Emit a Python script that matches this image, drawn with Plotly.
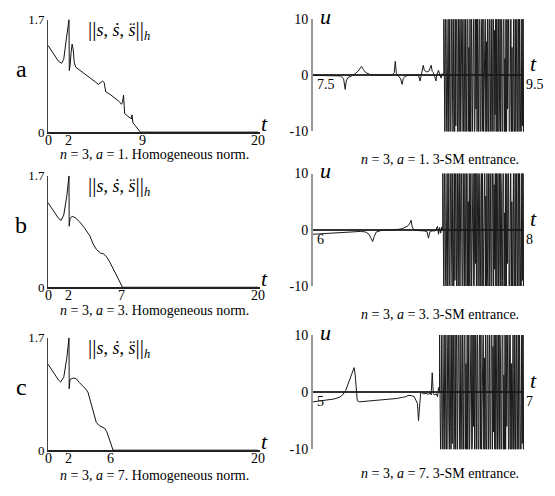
import numpy as np
import plotly.graph_objects as go

W, H = 555, 496
SERIF = "Liberation Serif"

# ---- homogeneous norm ||s, s', s''||_h (left column) ----
norm_a_t = [0, 0.5, 1.0, 1.3, 1.5, 1.7, 1.85, 2.0, 2.03, 2.1, 2.2, 2.3, 2.4, 2.5,
            2.65, 3.0, 3.5, 4.0, 4.5, 4.8, 5.0, 5.2, 5.35, 5.5, 6.0, 6.5, 6.8,
            7.0, 7.1, 7.2, 7.25, 7.3, 7.6, 7.95, 8.0, 8.05, 8.1, 8.4, 8.8, 20]
norm_a_v = [1.31, 1.18, 1.07, 1.04, 1.1, 1.35, 1.55, 1.7, 0.93, 1.0, 1.2, 1.33,
            1.25, 1.05, 0.98, 0.94, 0.88, 0.82, 0.76, 0.72, 0.74, 0.77, 0.75,
            0.61, 0.56, 0.50, 0.46, 0.42, 0.45, 0.56, 0.30, 0.28, 0.24, 0.20,
            0.26, 0.16, 0.14, 0.08, 0.0, 0.0]

norm_b_t = [0, 0.5, 1.0, 1.25, 1.5, 1.8, 2.0, 2.02, 2.1, 2.3, 2.6, 3.0, 3.5, 4.0,
            4.3, 4.6, 5.0, 5.3, 5.6, 5.9, 6.2, 6.4, 6.7, 7.1, 20]
norm_b_v = [1.29, 1.17, 1.05, 1.02, 1.1, 1.4, 1.7, 0.93, 1.05, 1.08, 1.06, 1.0,
            0.9, 0.78, 0.66, 0.58, 0.52, 0.51, 0.46, 0.38, 0.28, 0.21, 0.13,
            0.0, 0.0]

norm_c_t = [0, 0.5, 1.0, 1.2, 1.5, 1.8, 2.0, 2.02, 2.1, 2.4, 2.7, 3.0, 3.3, 3.5,
            3.8, 4.1, 4.4, 4.6, 4.9, 5.2, 5.4, 5.6, 5.8, 6.0, 6.2, 20]
norm_c_v = [1.30, 1.17, 1.06, 1.03, 1.1, 1.4, 1.7, 0.93, 1.07, 1.09, 1.08, 1.02,
            0.98, 0.94, 0.88, 0.72, 0.55, 0.42, 0.37, 0.35, 0.33, 0.28, 0.18,
            0.07, 0.0, 0.0]

norm_ticks_a = [0, 2, 9, 20]
norm_ticks_b = [0, 2, 7, 20]
norm_ticks_c = [0, 2, 6, 20]

# ---- control u before the 3-SM entrance (right column) ----
u_a_t = [7.5, 7.7, 7.76, 7.79, 7.805, 7.815, 7.83, 7.86, 7.9, 7.93, 7.95, 7.96,
         7.975, 8.0, 8.04, 8.1, 8.2, 8.25, 8.27, 8.28, 8.29, 8.31, 8.33, 8.345,
         8.355, 8.37, 8.4, 8.45, 8.5, 8.515, 8.525, 8.535, 8.545, 8.555, 8.565,
         8.58, 8.6, 8.62, 8.63, 8.64, 8.655, 8.665, 8.675, 8.69, 8.7, 8.715,
         8.725, 8.74]
u_a_v = [0, 0, -0.1, -0.6, -2.5, -1.0, -0.4, -0.15, 0.3, 0.8, 1.3, 1.6, 1.1, 0.5,
         0.15, 0.05, 0.05, 0.1, 0.5, 2.5, 0.4, -0.2, -0.6, -1.6, -0.6, -0.2, 0,
         0, 0, -1.0, 0, 0.9, 1.8, 0.9, 0.8, 0.6, 0.8, 1.8, 0.7, 0.5, -0.3, -1.0,
         0.2, 0.9, 0.2, -0.5, 0.3, 0]

u_b_t = [6.0, 6.1, 6.2, 6.3, 6.4, 6.45, 6.5, 6.53, 6.55, 6.565, 6.58, 6.6, 6.65,
         6.7, 6.8, 6.85, 6.9, 6.92, 6.93, 6.94, 6.96, 7.0, 7.05, 7.08, 7.095,
         7.1, 7.11, 7.13, 7.16, 7.18, 7.19, 7.2, 7.21, 7.22, 7.23]
u_b_v = [-0.8, -0.7, -0.55, -0.45, -0.35, -0.3, -0.4, -0.8, -1.5, -2.1, -1.2,
         -0.4, -0.1, 0, 0.05, 0.2, 0.7, 1.2, 1.7, 0.5, -0.1, -0.1, -0.2, -0.3,
         -1.5, -1.0, -0.3, -0.2, -0.2, 0.6, -0.8, 0.4, -0.6, 0.5, 0]

u_c_t = [5.0, 5.1, 5.2, 5.25, 5.28, 5.31, 5.34, 5.37, 5.39, 5.40, 5.42, 5.44,
         5.5, 5.6, 5.7, 5.8, 5.85, 5.88, 5.9, 5.93, 5.96, 5.99, 6.0, 6.01, 6.02,
         6.03, 6.05, 6.07, 6.09, 6.11, 6.12, 6.13, 6.14, 6.15, 6.17, 6.18, 6.19,
         6.2]
u_c_v = [-1.7, -1.5, -1.2, -0.9, -0.5, 0.3, 1.8, 3.5, 4.3, 3.0, -1.5, -1.7, -1.6,
         -1.45, -1.3, -1.1, -0.9, -0.8, -0.6, -0.6, -0.8, -2.0, -5.0, -1.5, -0.2,
         -0.1, -0.3, -0.2, -0.4, -0.1, -0.5, 3.4, -0.2, -0.5, -0.3, -0.8, 0.8, 0]

# sliding-mode chattering of u (values beyond +-10 are clipped by the axis)
chatter = [12, -3, -13, 9, 14, -8, -12, 2, 13, -14, 6, 11, -10, -13, 8, 14, -5,
           -12, 11, 3, -14, 12, -9, 10, 13, -12, -6, 14, -11, 7, 12, -14, -2,
           13, 9, -13, -11, 12, 4, -14, 13, -7, -12, 11, 14, -10, 5, -13, 12,
           -11, 8, 13, -14, -4, 10, 14, -12, -9, 13, -6, 11, -14, 12, 2, -13, 9,
           14, -11, -12, 7, 13, -10, 12, -14, -3, 11, 13, -12, 6, -13, 14, -8,
           -11, 12, 10, -14, 4, 13, -12, -10, 11, 14, -13, 8, -7, 12, -14, 13,
           -11, 9, 14, -12, -5, 13, -13, 11, 7, -14, -9, 12, 14, -11, 3, -12,
           13, -14, 10, -6, 12, 14, -13, -10, 9, 13, -12, 5, -14, 11, 12, -13,
           -8, 14, -11, 10, 13, -14, -2, 12, -12, 14, 8, -13, -11, 13, -9, 11,
           -14, 12]

u_ranges = [(7.5, 9.5), (6.0, 8.0), (5.0, 7.0)]
u_labels = [("7.5", "9.5"), ("6", "8"), ("5", "7")]
captions_left = ["<i>n</i> = 3, <i>a</i> = 1. Homogeneous norm.",
                 "<i>n</i> = 3, <i>a</i> = 3. Homogeneous norm.",
                 "<i>n</i> = 3, <i>a</i> = 7. Homogeneous norm."]
captions_right = ["<i>n</i> = 3, <i>a</i> = 1. 3-SM entrance.",
                  "<i>n</i> = 3, <i>a</i> = 3. 3-SM entrance.",
                  "<i>n</i> = 3, <i>a</i> = 7. 3-SM entrance."]
row_letters = ["a", "b", "c"]

# pixel layout of the panels
left_x = (48, 260)
right_x = (313, 524)
left_y = [(13, 129), (174, 289), (341, 457)]
right_y = [(12.7, 128.3), (171.7, 287.7), (338.3, 456)]
caption_left_y = [152, 313, 483]
caption_right_y = [157, 317, 481]


def dx(a, b):
    return [a / W, b / W]


def dy(top, bottom):
    return [1 - bottom / H, 1 - top / H]


def px(x):
    return x / W


def py(y):
    return 1 - y / H


fig = go.Figure()
layout = dict(
    width=W, height=H, margin=dict(l=0, r=0, t=0, b=0),
    paper_bgcolor="white", plot_bgcolor="white", showlegend=False,
    font=dict(family=SERIF, size=14, color="black"),
)
annotations = []

norms = [(norm_a_t, norm_a_v, norm_ticks_a),
         (norm_b_t, norm_b_v, norm_ticks_b),
         (norm_c_t, norm_c_v, norm_ticks_c)]
controls = [(u_a_t, u_a_v), (u_b_t, u_b_v), (u_c_t, u_c_v)]

bars = "<span style='font-size:21px'>||</span>"
norm_name = bars + "<i>s</i>, <i>ṡ</i>, <i>s̈</i>" + bars + "<sub><i>h</i></sub>"

for i in range(3):
    nl = 2 * i + 1
    nr = 2 * i + 2
    sl = "" if nl == 1 else str(nl)
    sr = str(nr)

    # left: norm
    t, v, ticks = norms[i]
    fig.add_trace(go.Scatter(x=t, y=v, mode="lines", xaxis="x" + sl, yaxis="y" + sl,
                             line=dict(color="#111", width=1)))
    layout["xaxis" + sl] = dict(
        domain=dx(*left_x), anchor="y" + sl, range=[0, 20.2],
        showticklabels=False, ticks="",
        showline=True, linecolor="#222", linewidth=1.5, showgrid=False,
        zeroline=False,
    )
    layout["yaxis" + sl] = dict(
        domain=dy(*left_y[i]), anchor="x" + sl, range=[0, 1.7],
        tickvals=[0, 1.7], ticktext=["0", "1.7"], ticks="",
        showline=True, linecolor="#444", linewidth=1, showgrid=False,
        zeroline=False, tickfont=dict(family=SERIF, size=13, color="black"),
    )
    ltop, lbot = left_y[i]
    for k in ticks:
        annotations.append(dict(x=k, y=py(lbot + 9), xref="x" + sl, yref="paper",
                                text=str(k), showarrow=False, xanchor="center",
                                yanchor="middle", font=dict(family=SERIF, size=14)))

    # right: control u
    t0, t1 = u_ranges[i]
    ut, uv = controls[i]
    ct = np.linspace(ut[-1], t1, len(chatter))
    x_all = np.concatenate([ut, ct])
    y_all = np.concatenate([uv, chatter])
    fig.add_trace(go.Scatter(x=x_all, y=y_all, mode="lines", xaxis="x" + sr,
                             yaxis="y" + sr, line=dict(color="#1a1a1a", width=1)))
    layout["xaxis" + sr] = dict(
        domain=dx(*right_x), anchor="y" + sr, range=[t0, t1],
        showline=False, showticklabels=False, ticks="", showgrid=False,
        zeroline=False,
    )
    layout["yaxis" + sr] = dict(
        domain=dy(*right_y[i]), anchor="x" + sr, range=[-10, 10],
        tickvals=[-10, 0, 10], ticktext=["-10", "0", "10"], ticks="",
        showline=True, linecolor="#999", linewidth=2, showgrid=False,
        zeroline=True, zerolinecolor="#333", zerolinewidth=1.5,
        tickfont=dict(family=SERIF, size=14, color="black"),
    )

    # end labels under the t axis of u
    lo, hi = u_labels[i]
    annotations.append(dict(x=t0, y=0, xref="x" + sr, yref="y" + sr, text=lo,
                            showarrow=False, xanchor="left", yanchor="top",
                            xshift=2, yshift=0, font=dict(family=SERIF, size=14)))
    annotations.append(dict(x=t1, y=0, xref="x" + sr, yref="y" + sr, text=hi,
                            showarrow=False, xanchor="left", yanchor="top",
                            xshift=0, yshift=0, font=dict(family=SERIF, size=14)))

    # axis names
    rtop, rbot = right_y[i]
    annotations.append(dict(x=px(264), y=py(lbot - 9), xref="paper", yref="paper",
                            text="<i>t</i>", showarrow=False, xanchor="center",
                            yanchor="middle", font=dict(family=SERIF, size=22)))
    annotations.append(dict(x=px(533), y=py((rtop + rbot) / 2 - 12), xref="paper",
                            yref="paper", text="<i>t</i>", showarrow=False,
                            xanchor="center", yanchor="middle",
                            font=dict(family=SERIF, size=22)))
    annotations.append(dict(x=px(325), y=py(rtop - 3), xref="paper", yref="paper",
                            text="<i>u</i>", showarrow=False, xanchor="center",
                            yanchor="middle", font=dict(family=SERIF, size=22)))

    # norm name
    annotations.append(dict(x=px(86), y=py(ltop + 11), xref="paper", yref="paper",
                            text=norm_name, showarrow=False, xanchor="left",
                            yanchor="middle", font=dict(family=SERIF, size=18)))

    # row letter
    annotations.append(dict(x=px(21), y=py(ltop + 51), xref="paper", yref="paper",
                            text=row_letters[i], showarrow=False, xanchor="center",
                            yanchor="middle", font=dict(family=SERIF, size=24)))

    # captions
    annotations.append(dict(x=px(154), y=py(caption_left_y[i]), xref="paper",
                            yref="paper", text=captions_left[i], showarrow=False,
                            xanchor="center", yanchor="middle",
                            font=dict(family=SERIF, size=14)))
    annotations.append(dict(x=px(440), y=py(caption_right_y[i]), xref="paper",
                            yref="paper", text=captions_right[i], showarrow=False,
                            xanchor="center", yanchor="middle",
                            font=dict(family=SERIF, size=14)))

layout["annotations"] = annotations
fig.update_layout(**layout)
fig.write_html("out.html")
